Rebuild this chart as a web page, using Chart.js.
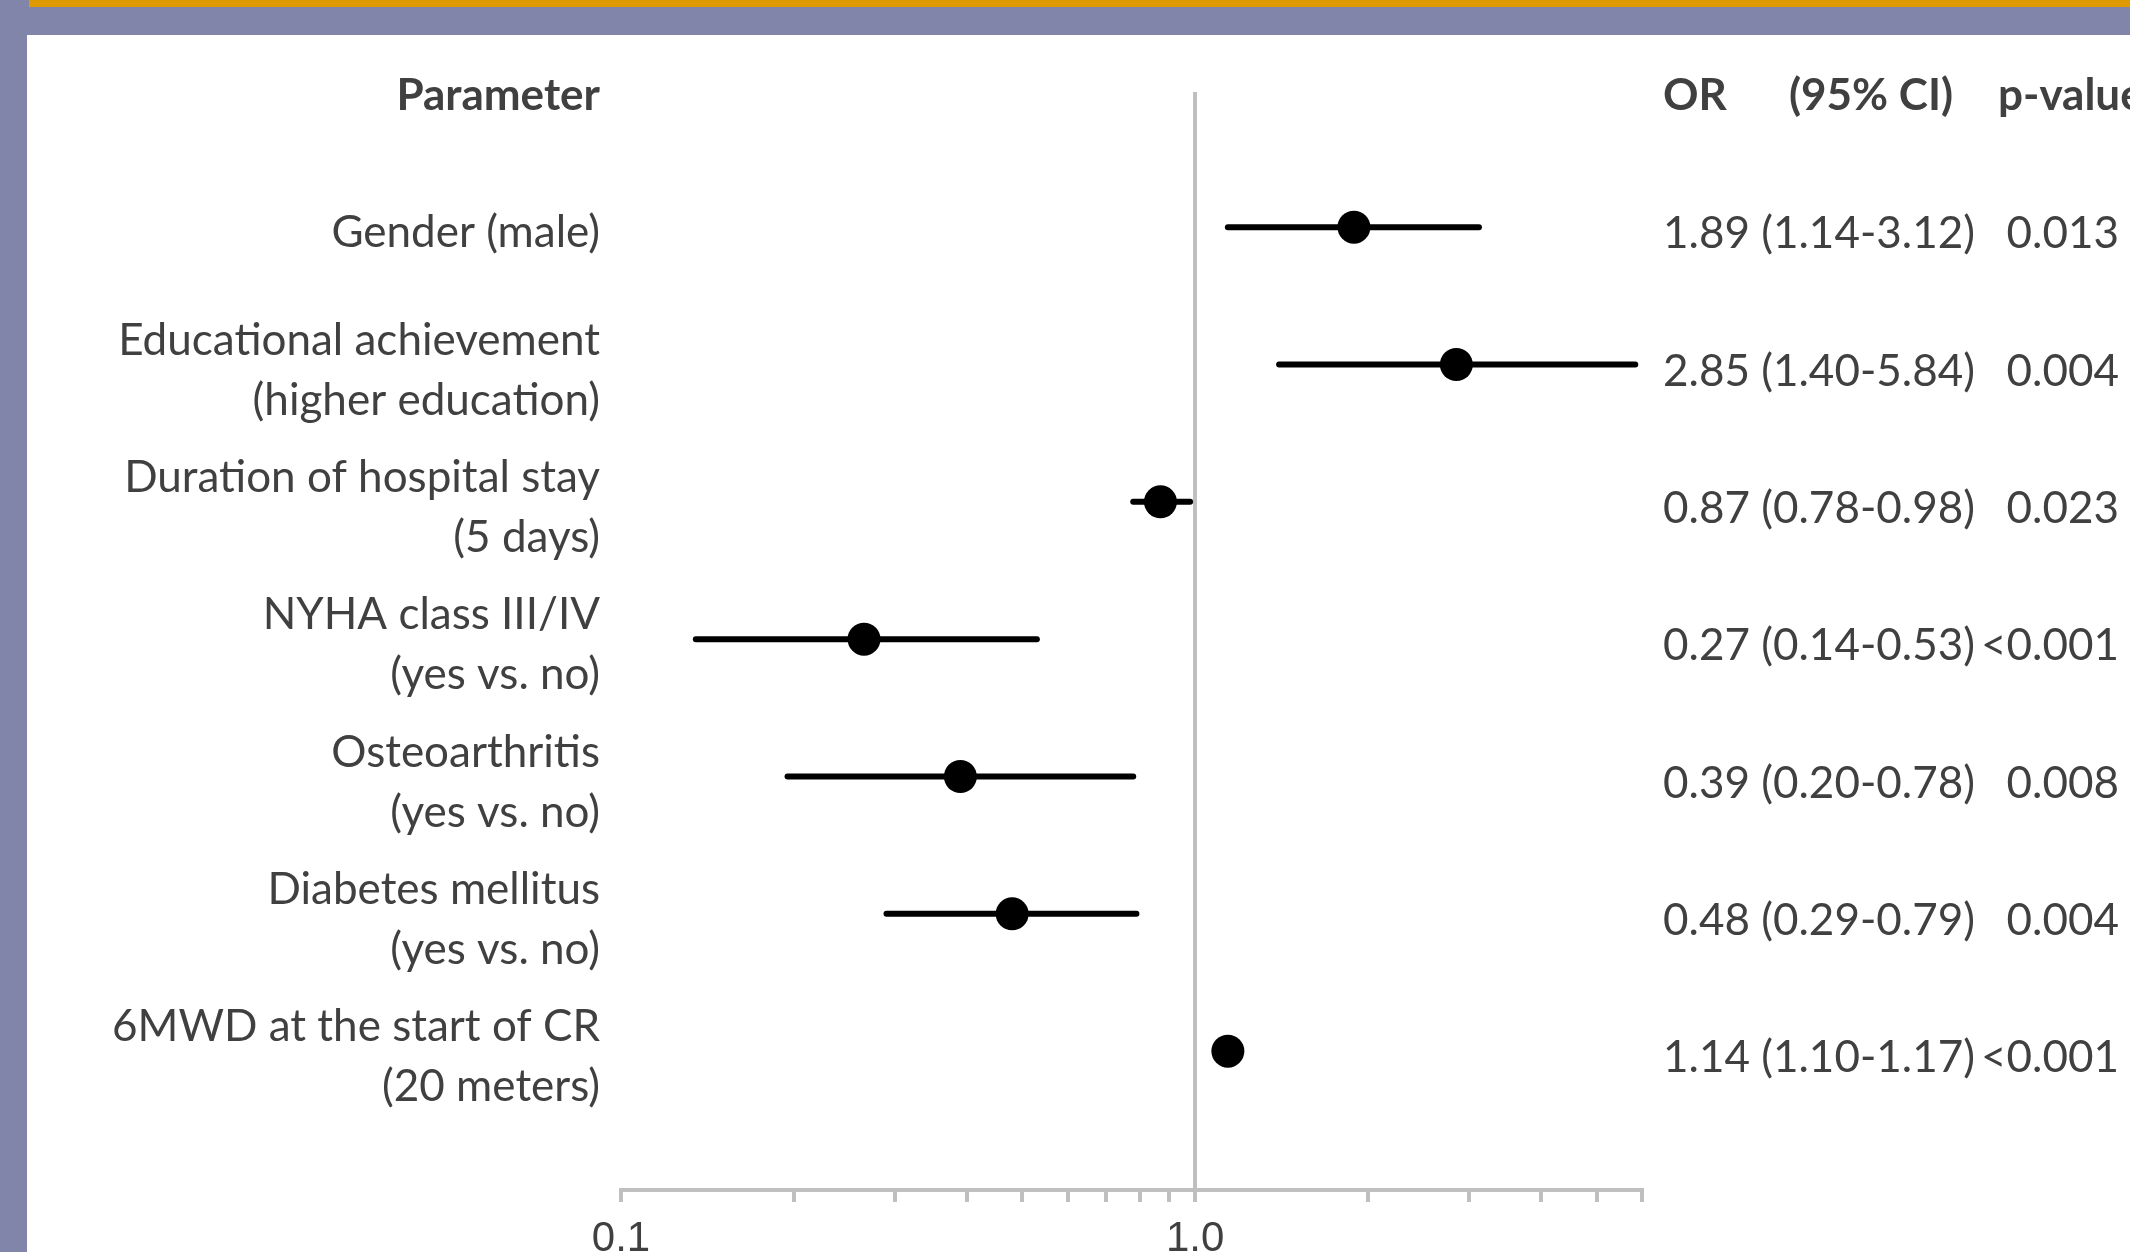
<!DOCTYPE html>
<html>
<head>
<meta charset="utf-8">
<script src="https://cdn.jsdelivr.net/npm/chart.js@4.4.1/dist/chart.umd.min.js"></script>
<style>
  html, body { margin: 0; padding: 0; background: #ffffff; overflow: hidden; }
  #wrap { position: relative; width: 2130px; height: 1252px; background: #ffffff; }
  .band { position: absolute; }
  #purpleTop { left: 0; top: 0; width: 2130px; height: 35px; background: #8185a9; }
  #purpleLeft { left: 0; top: 0; width: 27px; height: 1252px; background: #8185a9; }
  #orange { left: 29px; top: 0; width: 2101px; height: 7px; background: #de9a00; }
  #chart { position: absolute; left: 0; top: 0; }
</style>
</head>
<body>
<div id="wrap">
  <div class="band" id="purpleTop"></div>
  <div class="band" id="purpleLeft"></div>
  <div class="band" id="orange"></div>
  <canvas id="chart" width="2130" height="1252"></canvas>
</div>
<script>
// ---------------- data ----------------
const headerLabel = "Parameter";
const parameters = [
  ["Gender (male)"],
  ["Educational achievement", "(higher education)"],
  ["Duration of hospital stay", "(5 days)"],
  ["NYHA class III/IV", "(yes vs. no)"],
  ["Osteoarthritis", "(yes vs. no)"],
  ["Diabetes mellitus", "(yes vs. no)"],
  ["6MWD at the start of CR", "(20 meters)"]
];
// values as plotted in the picture (log scale)
const oddsRatios = [1.89, 2.85, 0.87, 0.265, 0.39, 0.48, 1.14];
const ciLower    = [1.14, 1.40, 0.78, 0.135, 0.195, 0.29, 1.10];
const ciUpper    = [3.12, 5.84, 0.98, 0.53, 0.78, 0.79, 1.17];
// values as printed in the table column
const orTexts = [
  "1.89 (1.14-3.12)",
  "2.85 (1.40-5.84)",
  "0.87 (0.78-0.98)",
  "0.27 (0.14-0.53)",
  "0.39 (0.20-0.78)",
  "0.48 (0.29-0.79)",
  "1.14 (1.10-1.17)"
];
const pValues    = ["0.013", "0.004", "0.023", "<0.001", "0.008", "0.004", "<0.001"];
const tableHeaders = ["OR", "(95% CI)", "p-value"];
const tickValues = [0.1, 0.2, 0.3, 0.4, 0.5, 0.6, 0.7, 0.8, 0.9, 1, 2, 3, 4, 5, 6];
const tickLabels = ["0.1", "", "", "", "", "", "", "", "", "1.0", "", "", "", "", ""];

// ---------------- styles ----------------
const TEXT = "#404040";
const AXIS = "#bfbfbf";
const FONT = "Lato, 'Open Sans', sans-serif";
const FS = 44;

const rowLabels = [headerLabel].concat(parameters);

const datasets = [];
datasets.push({
  type: "scatter",
  label: "OR",
  data: oddsRatios.map((v, i) => ({ x: v, y: i + 1 })),
  pointRadius: 16.5,
  pointHoverRadius: 16.5,
  pointBackgroundColor: "#000000",
  pointBorderWidth: 0,
  order: 0,
  clip: false
});
ciLower.forEach((lo, i) => {
  datasets.push({
    type: "line",
    label: "CI " + (i + 1),
    data: [{ x: lo, y: i + 1 }, { x: ciUpper[i], y: i + 1 }],
    borderColor: "#000000",
    borderWidth: 6,
    borderCapStyle: "round",
    pointRadius: 0,
    fill: false,
    order: 1,
    clip: false
  });
});

const tablePlugin = {
  id: "tablePlugin",
  afterDraw(chart) {
    const ctx = chart.ctx;
    const ys = chart.scales.y;
    const xStart = chart.chartArea.right + 21;
    const pRight = xStart + 456;
    ctx.save();
    ctx.fillStyle = TEXT;
    ctx.textBaseline = "middle";
    // header
    ctx.font = "bold " + FS + "px " + FONT;
    const hy = ys.getPixelForValue(0) + 6;
    ctx.textAlign = "left";
    ctx.fillText(tableHeaders[0], xStart, hy);
    ctx.fillText(tableHeaders[1], xStart + 126, hy);
    ctx.fillText(tableHeaders[2], xStart + 335, hy);
    // rows
    ctx.font = FS + "px " + FONT;
    orTexts.forEach((txt, i) => {
      const y = ys.getPixelForValue(i + 1) + 7;
      ctx.textAlign = "left";
      ctx.fillText(txt, xStart, y);
      ctx.textAlign = "right";
      ctx.fillText(pValues[i], pRight, y);
    });
    ctx.restore();
  }
};

new Chart(document.getElementById("chart"), {
  type: "scatter",
  data: { datasets },
  options: {
    responsive: false,
    animation: false,
    devicePixelRatio: 1,
    layout: { padding: { left: 0, right: 488, top: 92, bottom: 0 } },
    plugins: { legend: { display: false }, tooltip: { enabled: false } },
    events: [],
    scales: {
      x: {
        type: "logarithmic",
        min: 0.1,
        max: 6,
        afterBuildTicks: (scale) => { scale.ticks = tickValues.map(v => ({ value: v })); },
        afterFit: (scale) => { scale.height = 62; },
        border: { display: true, color: AXIS, width: 4 },
        grid: {
          display: true,
          drawOnChartArea: true,
          drawTicks: true,
          tickLength: 12,
          tickWidth: 4,
          tickColor: AXIS,
          lineWidth: 4,
          color: (ctx) => (ctx.tick && ctx.tick.value === 1) ? AXIS : "rgba(0,0,0,0)"
        },
        ticks: {
          autoSkip: false,
          maxRotation: 0,
          minRotation: 0,
          padding: 12,
          color: TEXT,
          font: { family: "'Liberation Sans Narrow', 'Liberation Sans', Arial, sans-serif", size: 42 },
          callback: (value, index) => tickLabels[index]
        }
      },
      y: {
        type: "linear",
        position: "left",
        reverse: true,
        min: 0.016,
        max: 8.011,
        afterBuildTicks: (scale) => { scale.ticks = rowLabels.map((_, i) => ({ value: i })); },
        afterFit: (scale) => { scale.width = 621; },
        border: { display: false },
        grid: { display: false, drawTicks: false },
        ticks: {
          autoSkip: false,
          padding: 21,
          labelOffset: 6,
          color: TEXT,
          font: (ctx) => ({ family: FONT, size: FS, weight: ctx.index === 0 ? "bold" : "normal", lineHeight: 1.36 }),
          callback: (value, index) => rowLabels[index]
        }
      }
    }
  },
  plugins: [tablePlugin]
});
</script>
</body>
</html>
